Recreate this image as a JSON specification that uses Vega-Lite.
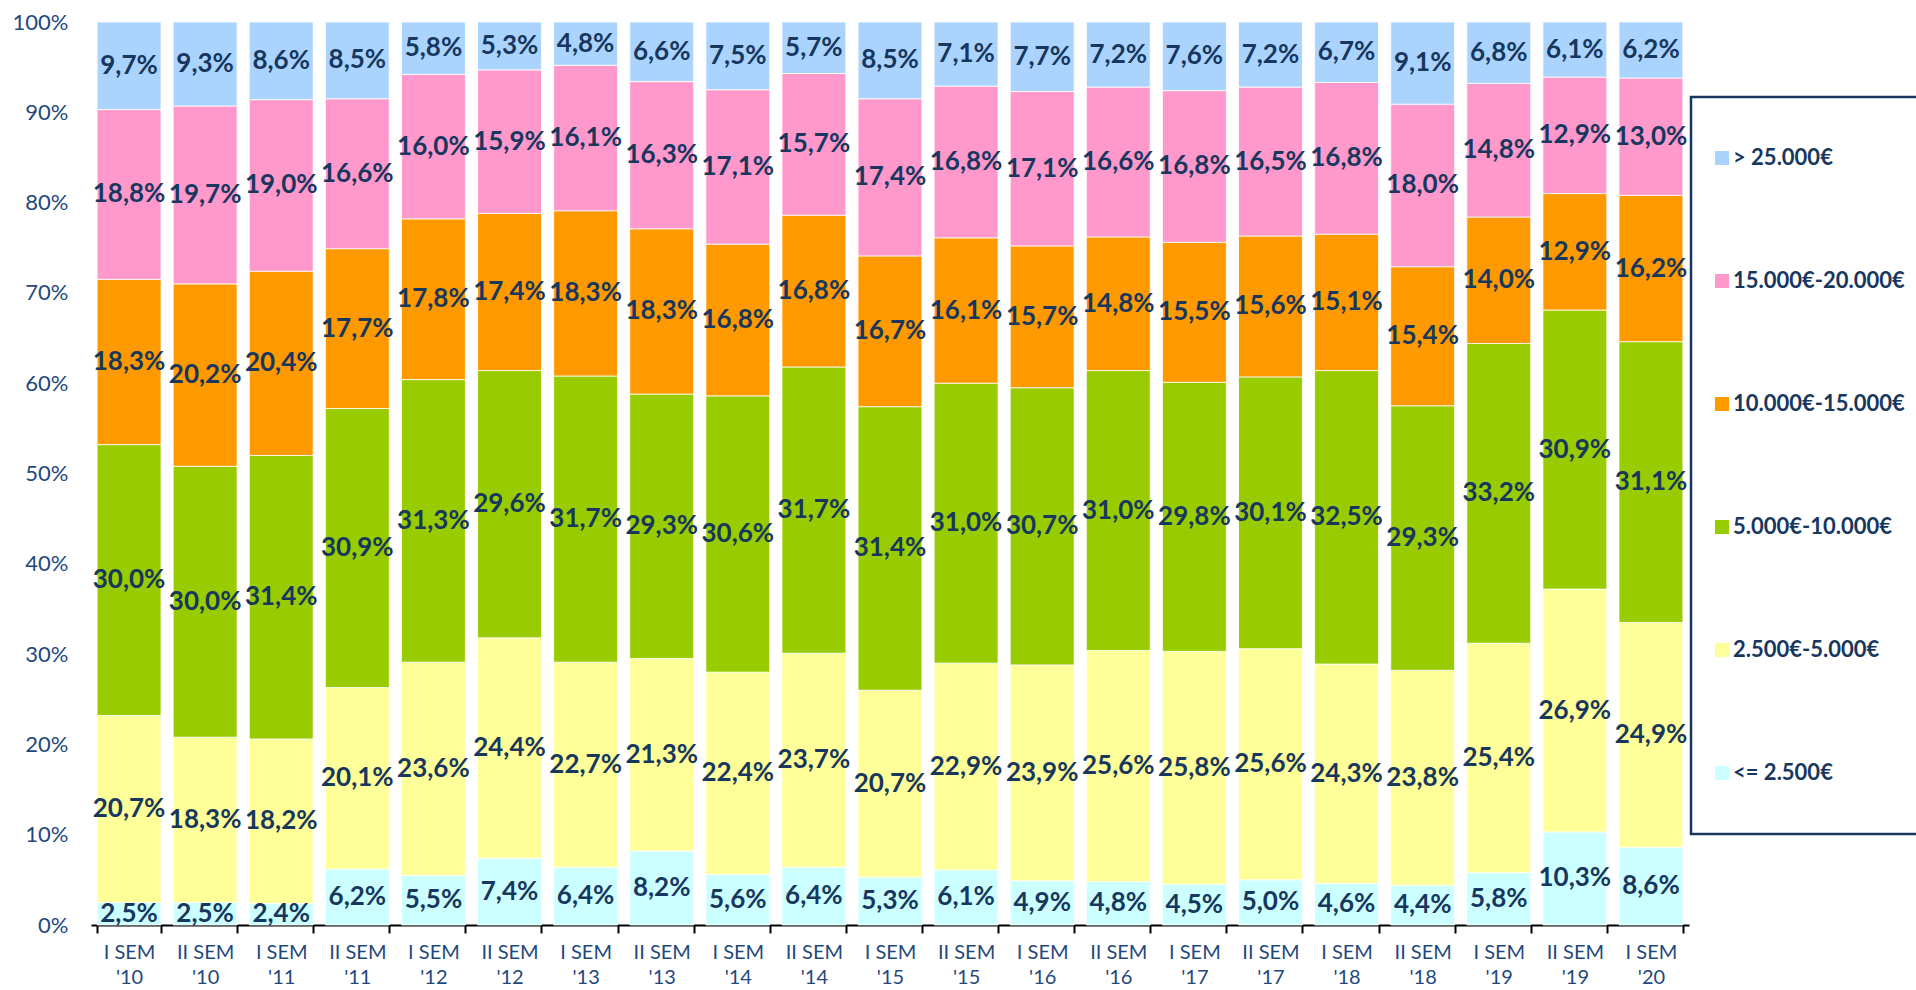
{
  "$schema": "https://vega.github.io/schema/vega-lite/v6.json",
  "width": 1598,
  "height": 903,
  "autosize": {"type": "none"},
  "padding": {"left": 91, "top": 22, "right": 227, "bottom": 65},
  "background": "white",
  "config": {
    "view": {"stroke": null},
    "font": "Lato",
    "legend": {"strokeWidth": 2.5},
    "locale": {"number": {"decimal": ",", "thousands": ".", "grouping": [3], "currency": ["", " €"]}}
  },
  "data": {"values": [
    {"s":"I SEM '10","b":"<= 2.500€","lo":0,"v":0.025},{"s":"I SEM '10","b":"2.500€-5.000€","lo":2500,"v":0.207},{"s":"I SEM '10","b":"5.000€-10.000€","lo":5000,"v":0.300},{"s":"I SEM '10","b":"10.000€-15.000€","lo":10000,"v":0.183},{"s":"I SEM '10","b":"15.000€-20.000€","lo":15000,"v":0.188},{"s":"I SEM '10","b":"> 25.000€","lo":25000,"v":0.097},
    {"s":"II SEM '10","b":"<= 2.500€","lo":0,"v":0.025},{"s":"II SEM '10","b":"2.500€-5.000€","lo":2500,"v":0.183},{"s":"II SEM '10","b":"5.000€-10.000€","lo":5000,"v":0.300},{"s":"II SEM '10","b":"10.000€-15.000€","lo":10000,"v":0.202},{"s":"II SEM '10","b":"15.000€-20.000€","lo":15000,"v":0.197},{"s":"II SEM '10","b":"> 25.000€","lo":25000,"v":0.093},
    {"s":"I SEM '11","b":"<= 2.500€","lo":0,"v":0.024},{"s":"I SEM '11","b":"2.500€-5.000€","lo":2500,"v":0.182},{"s":"I SEM '11","b":"5.000€-10.000€","lo":5000,"v":0.314},{"s":"I SEM '11","b":"10.000€-15.000€","lo":10000,"v":0.204},{"s":"I SEM '11","b":"15.000€-20.000€","lo":15000,"v":0.190},{"s":"I SEM '11","b":"> 25.000€","lo":25000,"v":0.086},
    {"s":"II SEM '11","b":"<= 2.500€","lo":0,"v":0.062},{"s":"II SEM '11","b":"2.500€-5.000€","lo":2500,"v":0.201},{"s":"II SEM '11","b":"5.000€-10.000€","lo":5000,"v":0.309},{"s":"II SEM '11","b":"10.000€-15.000€","lo":10000,"v":0.177},{"s":"II SEM '11","b":"15.000€-20.000€","lo":15000,"v":0.166},{"s":"II SEM '11","b":"> 25.000€","lo":25000,"v":0.085},
    {"s":"I SEM '12","b":"<= 2.500€","lo":0,"v":0.055},{"s":"I SEM '12","b":"2.500€-5.000€","lo":2500,"v":0.236},{"s":"I SEM '12","b":"5.000€-10.000€","lo":5000,"v":0.313},{"s":"I SEM '12","b":"10.000€-15.000€","lo":10000,"v":0.178},{"s":"I SEM '12","b":"15.000€-20.000€","lo":15000,"v":0.160},{"s":"I SEM '12","b":"> 25.000€","lo":25000,"v":0.058},
    {"s":"II SEM '12","b":"<= 2.500€","lo":0,"v":0.074},{"s":"II SEM '12","b":"2.500€-5.000€","lo":2500,"v":0.244},{"s":"II SEM '12","b":"5.000€-10.000€","lo":5000,"v":0.296},{"s":"II SEM '12","b":"10.000€-15.000€","lo":10000,"v":0.174},{"s":"II SEM '12","b":"15.000€-20.000€","lo":15000,"v":0.159},{"s":"II SEM '12","b":"> 25.000€","lo":25000,"v":0.053},
    {"s":"I SEM '13","b":"<= 2.500€","lo":0,"v":0.064},{"s":"I SEM '13","b":"2.500€-5.000€","lo":2500,"v":0.227},{"s":"I SEM '13","b":"5.000€-10.000€","lo":5000,"v":0.317},{"s":"I SEM '13","b":"10.000€-15.000€","lo":10000,"v":0.183},{"s":"I SEM '13","b":"15.000€-20.000€","lo":15000,"v":0.161},{"s":"I SEM '13","b":"> 25.000€","lo":25000,"v":0.048},
    {"s":"II SEM '13","b":"<= 2.500€","lo":0,"v":0.082},{"s":"II SEM '13","b":"2.500€-5.000€","lo":2500,"v":0.213},{"s":"II SEM '13","b":"5.000€-10.000€","lo":5000,"v":0.293},{"s":"II SEM '13","b":"10.000€-15.000€","lo":10000,"v":0.183},{"s":"II SEM '13","b":"15.000€-20.000€","lo":15000,"v":0.163},{"s":"II SEM '13","b":"> 25.000€","lo":25000,"v":0.066},
    {"s":"I SEM '14","b":"<= 2.500€","lo":0,"v":0.056},{"s":"I SEM '14","b":"2.500€-5.000€","lo":2500,"v":0.224},{"s":"I SEM '14","b":"5.000€-10.000€","lo":5000,"v":0.306},{"s":"I SEM '14","b":"10.000€-15.000€","lo":10000,"v":0.168},{"s":"I SEM '14","b":"15.000€-20.000€","lo":15000,"v":0.171},{"s":"I SEM '14","b":"> 25.000€","lo":25000,"v":0.075},
    {"s":"II SEM '14","b":"<= 2.500€","lo":0,"v":0.064},{"s":"II SEM '14","b":"2.500€-5.000€","lo":2500,"v":0.237},{"s":"II SEM '14","b":"5.000€-10.000€","lo":5000,"v":0.317},{"s":"II SEM '14","b":"10.000€-15.000€","lo":10000,"v":0.168},{"s":"II SEM '14","b":"15.000€-20.000€","lo":15000,"v":0.157},{"s":"II SEM '14","b":"> 25.000€","lo":25000,"v":0.057},
    {"s":"I SEM '15","b":"<= 2.500€","lo":0,"v":0.053},{"s":"I SEM '15","b":"2.500€-5.000€","lo":2500,"v":0.207},{"s":"I SEM '15","b":"5.000€-10.000€","lo":5000,"v":0.314},{"s":"I SEM '15","b":"10.000€-15.000€","lo":10000,"v":0.167},{"s":"I SEM '15","b":"15.000€-20.000€","lo":15000,"v":0.174},{"s":"I SEM '15","b":"> 25.000€","lo":25000,"v":0.085},
    {"s":"II SEM '15","b":"<= 2.500€","lo":0,"v":0.061},{"s":"II SEM '15","b":"2.500€-5.000€","lo":2500,"v":0.229},{"s":"II SEM '15","b":"5.000€-10.000€","lo":5000,"v":0.310},{"s":"II SEM '15","b":"10.000€-15.000€","lo":10000,"v":0.161},{"s":"II SEM '15","b":"15.000€-20.000€","lo":15000,"v":0.168},{"s":"II SEM '15","b":"> 25.000€","lo":25000,"v":0.071},
    {"s":"I SEM '16","b":"<= 2.500€","lo":0,"v":0.049},{"s":"I SEM '16","b":"2.500€-5.000€","lo":2500,"v":0.239},{"s":"I SEM '16","b":"5.000€-10.000€","lo":5000,"v":0.307},{"s":"I SEM '16","b":"10.000€-15.000€","lo":10000,"v":0.157},{"s":"I SEM '16","b":"15.000€-20.000€","lo":15000,"v":0.171},{"s":"I SEM '16","b":"> 25.000€","lo":25000,"v":0.077},
    {"s":"II SEM '16","b":"<= 2.500€","lo":0,"v":0.048},{"s":"II SEM '16","b":"2.500€-5.000€","lo":2500,"v":0.256},{"s":"II SEM '16","b":"5.000€-10.000€","lo":5000,"v":0.310},{"s":"II SEM '16","b":"10.000€-15.000€","lo":10000,"v":0.148},{"s":"II SEM '16","b":"15.000€-20.000€","lo":15000,"v":0.166},{"s":"II SEM '16","b":"> 25.000€","lo":25000,"v":0.072},
    {"s":"I SEM '17","b":"<= 2.500€","lo":0,"v":0.045},{"s":"I SEM '17","b":"2.500€-5.000€","lo":2500,"v":0.258},{"s":"I SEM '17","b":"5.000€-10.000€","lo":5000,"v":0.298},{"s":"I SEM '17","b":"10.000€-15.000€","lo":10000,"v":0.155},{"s":"I SEM '17","b":"15.000€-20.000€","lo":15000,"v":0.168},{"s":"I SEM '17","b":"> 25.000€","lo":25000,"v":0.076},
    {"s":"II SEM '17","b":"<= 2.500€","lo":0,"v":0.050},{"s":"II SEM '17","b":"2.500€-5.000€","lo":2500,"v":0.256},{"s":"II SEM '17","b":"5.000€-10.000€","lo":5000,"v":0.301},{"s":"II SEM '17","b":"10.000€-15.000€","lo":10000,"v":0.156},{"s":"II SEM '17","b":"15.000€-20.000€","lo":15000,"v":0.165},{"s":"II SEM '17","b":"> 25.000€","lo":25000,"v":0.072},
    {"s":"I SEM '18","b":"<= 2.500€","lo":0,"v":0.046},{"s":"I SEM '18","b":"2.500€-5.000€","lo":2500,"v":0.243},{"s":"I SEM '18","b":"5.000€-10.000€","lo":5000,"v":0.325},{"s":"I SEM '18","b":"10.000€-15.000€","lo":10000,"v":0.151},{"s":"I SEM '18","b":"15.000€-20.000€","lo":15000,"v":0.168},{"s":"I SEM '18","b":"> 25.000€","lo":25000,"v":0.067},
    {"s":"II SEM '18","b":"<= 2.500€","lo":0,"v":0.044},{"s":"II SEM '18","b":"2.500€-5.000€","lo":2500,"v":0.238},{"s":"II SEM '18","b":"5.000€-10.000€","lo":5000,"v":0.293},{"s":"II SEM '18","b":"10.000€-15.000€","lo":10000,"v":0.154},{"s":"II SEM '18","b":"15.000€-20.000€","lo":15000,"v":0.180},{"s":"II SEM '18","b":"> 25.000€","lo":25000,"v":0.091},
    {"s":"I SEM '19","b":"<= 2.500€","lo":0,"v":0.058},{"s":"I SEM '19","b":"2.500€-5.000€","lo":2500,"v":0.254},{"s":"I SEM '19","b":"5.000€-10.000€","lo":5000,"v":0.332},{"s":"I SEM '19","b":"10.000€-15.000€","lo":10000,"v":0.140},{"s":"I SEM '19","b":"15.000€-20.000€","lo":15000,"v":0.148},{"s":"I SEM '19","b":"> 25.000€","lo":25000,"v":0.068},
    {"s":"II SEM '19","b":"<= 2.500€","lo":0,"v":0.103},{"s":"II SEM '19","b":"2.500€-5.000€","lo":2500,"v":0.269},{"s":"II SEM '19","b":"5.000€-10.000€","lo":5000,"v":0.309},{"s":"II SEM '19","b":"10.000€-15.000€","lo":10000,"v":0.129},{"s":"II SEM '19","b":"15.000€-20.000€","lo":15000,"v":0.129},{"s":"II SEM '19","b":"> 25.000€","lo":25000,"v":0.061},
    {"s":"I SEM '20","b":"<= 2.500€","lo":0,"v":0.086},{"s":"I SEM '20","b":"2.500€-5.000€","lo":2500,"v":0.249},{"s":"I SEM '20","b":"5.000€-10.000€","lo":5000,"v":0.311},{"s":"I SEM '20","b":"10.000€-15.000€","lo":10000,"v":0.162},{"s":"I SEM '20","b":"15.000€-20.000€","lo":15000,"v":0.130},{"s":"I SEM '20","b":"> 25.000€","lo":25000,"v":0.062}
  ]},
  "transform": [
    {"stack": "v", "groupby": ["s"], "sort": [{"field": "lo", "order": "ascending"}], "offset": "normalize", "as": ["v0", "v1"]},
    {"calculate": "(datum.v0 + datum.v1) / 2", "as": "mid"}
  ],
  "encoding": {
    "x": {
      "field": "s", "type": "nominal", "sort": null,
      "scale": {"paddingInner": 0.16, "paddingOuter": 0.08},
      "axis": {
        "title": null, "labelAngle": 0,
        "labelExpr": "[substring(datum.label, 0, lastindexof(datum.label, ' ')), substring(datum.label, lastindexof(datum.label, ' ') + 1)]",
        "labelFont": "Lato", "labelFontSize": 20, "labelColor": "#1F497D", "labelLineHeight": 25,
        "labelPadding": 9, "labelBaseline": "top",
        "domainColor": "#000000", "domainWidth": 2,
        "ticks": true, "tickBand": "extent", "tickColor": "#000000", "tickWidth": 2, "tickSize": 8
      }
    }
  },
  "layer": [
    {
      "mark": {"type": "bar", "stroke": "white", "strokeWidth": 0.8},
      "encoding": {
        "y": {
          "field": "v0", "type": "quantitative", "scale": {"domain": [0, 1], "nice": false},
          "axis": {
            "title": null, "format": ".0%", "values": [0, 0.1, 0.2, 0.3, 0.4, 0.5, 0.6, 0.7, 0.8, 0.9, 1],
            "domain": false, "ticks": false, "grid": false,
            "labelFont": "Lato", "labelFontSize": 22, "labelColor": "#1F497D", "labelPadding": 23
          }
        },
        "y2": {"field": "v1"},
        "color": {
          "field": "b", "type": "nominal",
          "scale": {
            "domain": ["> 25.000€", "15.000€-20.000€", "10.000€-15.000€", "5.000€-10.000€", "2.500€-5.000€", "<= 2.500€"],
            "range": ["#AAD4FE", "#FF99CC", "#FF9900", "#99CC00", "#FFFF99", "#CCFFFF"]
          },
          "legend": {
            "title": null, "orient": "none", "legendX": 1600, "legendY": 75, "direction": "vertical",
            "padding": 50, "strokeColor": "#17375E", "fillColor": "white",
            "symbolType": "square", "symbolSize": 196, "symbolStrokeWidth": 0, "symbolOffset": -30,
            "labelOffset": 0, "labelFont": "Lato", "labelFontWeight": "bold", "labelFontSize": 22,
            "labelColor": "#17375E", "labelLimit": 0, "rowPadding": 101
          }
        }
      }
    },
    {
      "mark": {"type": "text", "font": "Lato", "fontWeight": "bold", "fontSize": 26, "color": "#17375E", "align": "center", "baseline": "middle"},
      "encoding": {
        "y": {"field": "mid", "type": "quantitative"},
        "text": {"field": "v", "type": "quantitative", "format": ".1%"}
      }
    }
  ]
}
